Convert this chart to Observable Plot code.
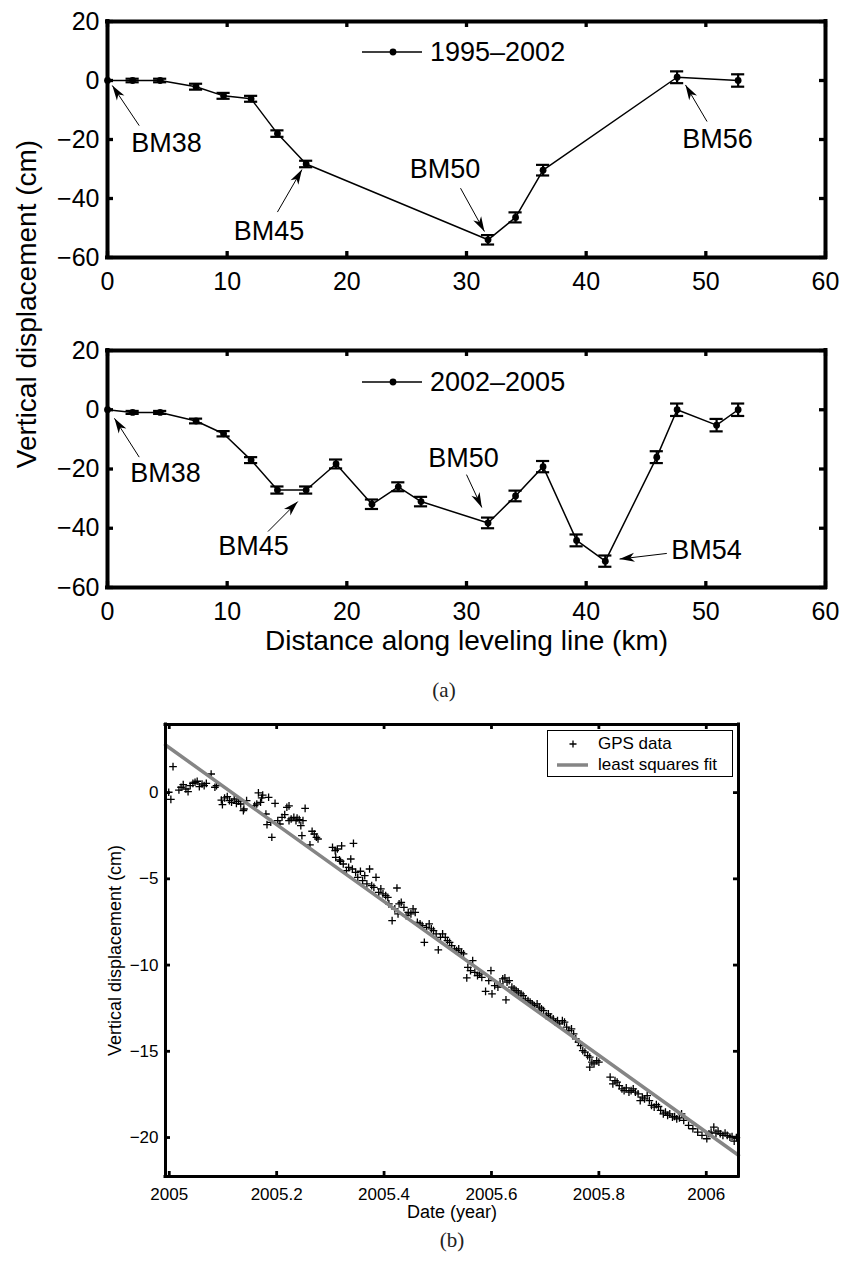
<!DOCTYPE html>
<html>
<head>
<meta charset="utf-8">
<script src="https://cdn.jsdelivr.net/npm/d3@7"></script>
<script src="https://cdn.jsdelivr.net/npm/@observablehq/plot@0.6"></script>
<style>
  body { margin: 0; background: #fff; }
  #root { position: relative; width: 843px; height: 1264px; overflow: hidden; background: #fff;
          font-family: "Liberation Sans", Arial, Helvetica, sans-serif; color: #000; }
  .abs { position: absolute; white-space: nowrap; }
</style>
</head>
<body>
<div id="root"></div>
<script>
// ---------------- DATA ----------------
// Leveling line, 1995–2002
const km9502   = [0, 2.1, 4.4, 7.4, 9.7, 12.0, 14.2, 16.6, 31.8, 34.1, 36.4, 47.6, 52.7];
const disp9502 = [0, 0, 0, -2.1, -5.2, -6.2, -18.0, -28.3, -54.0, -46.4, -30.4, 1.1, 0];
const err9502  = [0, 0.6, 0.6, 1.0, 1.0, 1.0, 1.1, 1.1, 1.6, 1.7, 1.8, 2.0, 2.1];

// Leveling line, 2002–2005
const km0205   = [0, 2.1, 4.4, 7.4, 9.7, 12.0, 14.2, 16.6, 19.1, 22.1, 24.3, 26.2, 31.8, 34.1, 36.4, 39.2, 41.6, 45.9, 47.6, 50.9, 52.7];
const disp0205 = [0, -0.9, -0.9, -3.8, -8.1, -17.0, -27.1, -27.1, -18.3, -31.9, -26.0, -31.0, -38.2, -29.1, -19.2, -44.1, -51.1, -16.0, 0, -5.2, 0];
const err0205  = [0, 0.5, 0.5, 0.8, 0.9, 1.0, 1.2, 1.2, 1.5, 1.6, 1.5, 1.6, 1.8, 1.8, 1.9, 2.0, 1.9, 2.0, 2.1, 2.1, 2.1];

// Benchmark annotations (data units: km, cm)
const ann9502 = [
  {label: "BM38", textX: 4.93,  textY: -21.4, tailX: 2.65, tailY: -15.3, tipX: 0.4,   tipY: -1.7},
  {label: "BM45", textX: 13.5,  textY: -51.2, tailX: 14.2, tailY: -44.6, tipX: 16.25, tipY: -30.2},
  {label: "BM50", textX: 28.2,  textY: -30.2, tailX: 29.5, tailY: -36.5, tipX: 31.5,  tipY: -51.2},
  {label: "BM56", textX: 50.97, textY: -20.0, tailX: 50.1, tailY: -13.9, tipX: 48.3,  tipY: -1.5}
];
const ann0205 = [
  {label: "BM38", textX: 4.85,  textY: -21.6, tailX: 2.65,  tailY: -16.0, tipX: 0.58,  tipY: -2.9},
  {label: "BM45", textX: 12.2,  textY: -46.0, tailX: 13.41, tailY: -41.1, tipX: 15.9,  tipY: -31.0},
  {label: "BM50", textX: 29.75, textY: -16.3, tailX: 30.0,  tailY: -21.9, tipX: 31.28, tipY: -33.0},
  {label: "BM54", textX: 50.05, textY: -47.6, tailX: 46.74, tailY: -48.5, tipX: 42.79, tipY: -50.4}
];

const kmTicks = [0, 10, 20, 30, 40, 50, 60];
const dispTicks = [-60, -40, -20, 0, 20];

// GPS time series: [decimal year, vertical displacement (cm)]
const gpsSamples = [
  [2004.999,0.02],[2005.003,-0.39],[2005.007,1.51],[2005.018,0.15],[2005.022,0.31],[2005.026,0.46],[2005.031,0.21],[2005.035,0.06],[2005.039,0.41],[2005.044,0.54],[2005.048,0.60],[2005.052,0.66],[2005.056,0.35],[2005.061,0.50],[2005.065,0.41],[2005.069,0.54],[2005.078,1.08],[2005.085,0.31],[2005.088,0.41],
  [2005.097,-0.43],[2005.099,-0.70],[2005.103,-0.31],[2005.108,-0.23],[2005.112,-0.46],[2005.116,-0.56],[2005.121,-0.37],[2005.125,-0.62],[2005.129,-0.50],[2005.133,-0.66],[2005.138,-1.04],[2005.139,-0.95],[2005.144,-0.46],[2005.159,-0.75],[2005.163,-0.66],[2005.166,-0.02],[2005.170,-0.56],[2005.172,-0.31],[2005.174,-0.14],[2005.180,-1.24],[2005.182,-1.86],[2005.185,-0.27],[2005.189,-1.72],[2005.191,-2.59],[2005.197,-0.62],
  [2005.202,-1.62],[2005.206,-1.82],[2005.210,-1.43],[2005.215,-1.28],[2005.219,-0.85],[2005.223,-0.77],[2005.223,-1.62],[2005.227,-1.53],[2005.232,-1.43],[2005.236,-1.62],[2005.238,-1.47],[2005.242,-1.57],[2005.245,-1.91],[2005.247,-2.49],[2005.249,-1.62],[2005.253,-0.91],[2005.262,-3.03],[2005.266,-2.24],[2005.270,-2.40],[2005.274,-2.59],[2005.277,-2.69],
  [2005.304,-3.17],[2005.309,-3.36],[2005.310,-3.75],[2005.313,-3.27],[2005.317,-3.90],[2005.319,-3.98],[2005.321,-3.09],[2005.324,-4.14],[2005.330,-4.52],[2005.334,-4.33],[2005.338,-3.85],[2005.341,-4.43],[2005.343,-2.94],[2005.347,-4.62],[2005.351,-4.91],[2005.356,-4.56],[2005.360,-5.10],[2005.364,-4.81],[2005.368,-5.29],[2005.373,-4.43],[2005.377,-5.39],[2005.381,-5.49],[2005.385,-4.91],[2005.390,-5.78],[2005.394,-5.58],[2005.398,-5.87],
  [2005.403,-5.97],[2005.407,-6.07],[2005.409,-6.45],[2005.415,-7.42],[2005.420,-6.74],[2005.424,-5.53],[2005.426,-7.03],[2005.428,-6.45],[2005.432,-6.36],[2005.437,-6.65],[2005.441,-7.13],[2005.445,-6.94],[2005.450,-7.03],[2005.454,-6.74],[2005.458,-6.94],[2005.462,-7.52],[2005.467,-7.61],[2005.471,-7.71],[2005.475,-8.68],[2005.479,-7.81],[2005.484,-7.61],[2005.488,-7.90],[2005.492,-8.00],[2005.497,-8.19],
  [2005.501,-9.12],[2005.505,-8.39],[2005.509,-8.19],[2005.514,-8.39],[2005.518,-8.58],[2005.522,-8.68],[2005.526,-8.87],[2005.531,-9.06],[2005.535,-9.16],[2005.539,-9.06],[2005.544,-9.26],[2005.548,-9.35],[2005.554,-10.74],[2005.556,-10.13],[2005.561,-10.32],[2005.565,-9.74],[2005.569,-10.42],[2005.574,-10.61],[2005.578,-10.51],[2005.582,-10.71],[2005.589,-11.52],[2005.595,-10.90],[2005.599,-10.32],
  [2005.601,-11.67],[2005.606,-11.19],[2005.612,-11.28],[2005.616,-11.09],[2005.621,-10.80],[2005.625,-10.74],[2005.627,-12.02],[2005.629,-10.99],[2005.633,-10.90],[2005.638,-11.28],[2005.642,-11.38],[2005.646,-11.48],[2005.650,-11.57],[2005.655,-11.67],[2005.659,-11.77],[2005.663,-11.96],[2005.668,-12.06],[2005.672,-12.15],[2005.676,-12.25],[2005.680,-12.35],[2005.685,-12.25],[2005.689,-12.44],[2005.693,-12.54],[2005.697,-12.64],
  [2005.702,-12.93],[2005.706,-12.83],[2005.710,-13.02],[2005.715,-13.12],[2005.719,-13.31],[2005.723,-13.22],[2005.727,-13.41],[2005.732,-13.22],[2005.736,-13.31],[2005.740,-13.60],[2005.744,-13.80],[2005.749,-13.70],[2005.753,-13.99],[2005.757,-14.28],[2005.762,-14.47],[2005.766,-14.67],[2005.770,-14.96],[2005.774,-15.05],[2005.779,-15.25],[2005.783,-15.34],[2005.783,-15.92],[2005.787,-15.63],[2005.791,-15.73],[2005.796,-15.54],[2005.800,-15.63],
  [2005.821,-16.50],[2005.826,-16.89],[2005.830,-16.70],[2005.834,-16.79],[2005.838,-16.99],[2005.843,-17.18],[2005.847,-17.28],[2005.851,-17.12],[2005.856,-17.37],[2005.860,-17.28],[2005.864,-17.18],[2005.868,-17.37],[2005.873,-17.47],[2005.877,-17.86],[2005.881,-17.66],[2005.885,-17.76],[2005.890,-17.57],[2005.894,-17.86],[2005.898,-18.14],
  [2005.903,-18.24],[2005.907,-18.09],[2005.911,-18.20],[2005.915,-18.43],[2005.920,-18.63],[2005.924,-18.53],[2005.928,-18.72],[2005.932,-18.63],[2005.937,-18.82],[2005.941,-18.78],[2005.945,-18.92],[2005.950,-18.86],[2005.954,-18.63],[2005.958,-19.01],[2005.967,-19.30],[2005.975,-19.49],[2005.984,-19.69],[2005.992,-19.88],
  [2006.001,-20.07],[2006.005,-19.78],[2006.009,-19.69],[2006.014,-19.40],[2006.018,-19.74],[2006.022,-19.63],[2006.026,-19.78],[2006.031,-19.88],[2006.035,-19.74],[2006.039,-19.88],[2006.044,-19.98],[2006.048,-19.94],[2006.052,-20.21],[2006.056,-20.01]
];
// Least-squares fit line end points
const fitT = [2004.993, 2006.06];
const fitV = [2.76, -21.03];

const yearTicks = [2005, 2005.2, 2005.4, 2005.6, 2005.8, 2006];
const gpsDispTicks = [-20, -15, -10, -5, 0];

// ---------------- DRAWING ----------------
const FONT = '"Liberation Sans", Arial, Helvetica, sans-serif';
const root = document.getElementById("root");
function place(node, top, left = 0) {
  node.style.position = "absolute";
  node.style.top = top + "px";
  node.style.left = left + "px";
  root.appendChild(node);
  return node;
}

// Filled MATLAB-like arrowhead, pointing up with its tip at the origin
const arrowHead = {
  draw(ctx) {
    const L = 15, W = 4.5;
    ctx.moveTo(0, 0);
    ctx.lineTo(W, L);
    ctx.lineTo(0, L * 0.72);
    ctx.lineTo(-W, L);
    ctx.closePath();
  }
};

// Box frame with inward tick marks on all four sides (MATLAB "box on" style)
function boxedAxes(xDom, yDom, xTicks, yTicks, {len, width, frameWidth, xFormat, fontSize, xPad, yPad}) {
  return [
    // inward ticks
    Plot.ruleX(xTicks, {x: d => d, y1: yDom[0], y2: yDom[0], insetTop: -len, stroke: "black", strokeWidth: width}),
    Plot.ruleX(xTicks, {x: d => d, y1: yDom[1], y2: yDom[1], insetBottom: -len, stroke: "black", strokeWidth: width}),
    Plot.ruleY(yTicks, {y: d => d, x1: xDom[0], x2: xDom[0], insetRight: -len, stroke: "black", strokeWidth: width}),
    Plot.ruleY(yTicks, {y: d => d, x1: xDom[1], x2: xDom[1], insetLeft: -len, stroke: "black", strokeWidth: width}),
    // tick labels
    Plot.axisX({ticks: xTicks, tickSize: 0, tickPadding: xPad, label: null, fontSize,
                ...(xFormat ? {tickFormat: xFormat} : {})}),
    Plot.axisY({ticks: yTicks, tickSize: 0, tickPadding: yPad, label: null, fontSize}),
    // frame
    Plot.ruleX(xDom, {x: d => d, stroke: "black", strokeWidth: frameWidth, strokeLinecap: "square"}),
    Plot.ruleY(yDom, {y: d => d, stroke: "black", strokeWidth: frameWidth, strokeLinecap: "square"})
  ];
}

const xDomA = [0, 60], yDomA = [-60, 20];

function levelingPanel({kmArr, dispArr, errArr, ann, height, marginTop, marginBottom, extra = []}) {
  const W = 843, mL = 107, mR = 18;
  const data = kmArr.map((k, i) => ({km: k, d: dispArr[i], e: errArr[i]}));
  const withErr = data.filter(d => d.e > 0);
  const kx = (W - mL - mR) / (xDomA[1] - xDomA[0]);
  const ky = (height - marginTop - marginBottom) / (yDomA[1] - yDomA[0]);
  const arrows = ann.map(a => ({...a,
    angle: Math.atan2((a.tipX - a.tailX) * kx, (a.tipY - a.tailY) * ky) * 180 / Math.PI}));
  const cap = 0.55;
  return Plot.plot({
    width: W, height, marginLeft: mL, marginRight: mR, marginTop, marginBottom,
    style: {fontFamily: FONT, fontSize: "25px", color: "black", background: "transparent", overflow: "visible"},
    x: {domain: xDomA},
    y: {domain: yDomA},
    marks: [
      Plot.line(data, {x: "km", y: "d", stroke: "black", strokeWidth: 1.5}),
      Plot.ruleX(withErr, {x: "km", y1: d => d.d - d.e, y2: d => d.d + d.e, stroke: "black", strokeWidth: 2.2}),
      Plot.ruleY(withErr, {y: d => d.d + d.e, x1: d => d.km - cap, x2: d => d.km + cap, stroke: "black", strokeWidth: 2.2}),
      Plot.ruleY(withErr, {y: d => d.d - d.e, x1: d => d.km - cap, x2: d => d.km + cap, stroke: "black", strokeWidth: 2.2}),
      Plot.dot(data, {x: "km", y: "d", r: 3.4, fill: "black", stroke: "none"}),
      Plot.link(arrows, {x1: "tailX", y1: "tailY", x2: "tipX", y2: "tipY", stroke: "black", strokeWidth: 1}),
      Plot.dot(arrows, {x: "tipX", y: "tipY", symbol: arrowHead, r: 5, rotate: "angle", fill: "black", stroke: "none"}),
      Plot.text(arrows, {x: "textX", y: "textY", text: "label", fontSize: 27, textAnchor: "middle", lineAnchor: "middle", fill: "black"}),
      ...boxedAxes(xDomA, yDomA, kmTicks, dispTicks, {len: 6, width: 3.3, frameWidth: 4, fontSize: 25, xPad: 15, yPad: 8}),
      ...extra
    ]
  });
}

const pA1 = levelingPanel({kmArr: km9502, dispArr: disp9502, errArr: err9502, ann: ann9502,
  height: 300, marginTop: 21, marginBottom: 43});
place(pA1, 0, 0);

const pA2 = levelingPanel({kmArr: km0205, dispArr: disp0205, errArr: err0205, ann: ann0205,
  height: 360, marginTop: 50, marginBottom: 73,
  extra: [Plot.text(["Distance along leveling line (km)"], {text: d => d, frameAnchor: "bottom", dy: 54,
          fontSize: 28, textAnchor: "middle", lineAnchor: "middle", fill: "black"})]});
place(pA2, 300, 0);

// shared y title of panel (a)
const yTitleA = document.createElement("div");
yTitleA.className = "abs";
yTitleA.textContent = "Vertical displacement (cm)";
yTitleA.style.cssText += "font-size:28px;transform:translate(-50%,-50%) rotate(-90deg);";
place(yTitleA, 304, 27);

// legends of panel (a)
function seriesLegend(label, cy) {
  const box = document.createElement("div");
  box.className = "abs";
  box.style.cssText += "display:flex;align-items:center;height:32px;font-size:27px;";
  box.innerHTML = `<svg width="60" height="10" style="margin-right:8px"><line x1="0" y1="5" x2="60" y2="5" stroke="black" stroke-width="1.5"/><circle cx="31" cy="5" r="3.4" fill="black"/></svg><span>${label}</span>`;
  place(box, cy - 16, 362);
}
seriesLegend("1995–2002", 52);
seriesLegend("2002–2005", 382);

// (a) caption
const capA = document.createElement("div");
capA.className = "abs";
capA.textContent = "(a)";
capA.style.cssText += 'font-family:"Liberation Serif","DejaVu Serif",serif;font-size:21px;color:#222;transform:translate(-50%,-50%);';
place(capA, 690, 444);

// ---------------- GPS panel (b) ----------------
const gps = gpsSamples.map(([t, v]) => ({t, v}));
const fit = fitT.map((t, i) => ({t, v: fitV[i]}));
const xDomB = [2004.993, 2006.06], yDomB = [-22.26, 3.95];

const pB = Plot.plot({
  width: 843, height: 604, marginLeft: 165, marginRight: 105, marginTop: 64, marginBottom: 88,
  style: {fontFamily: FONT, fontSize: "17px", color: "black", background: "transparent", overflow: "visible"},
  x: {domain: xDomB},
  y: {domain: yDomB},
  marks: [
    Plot.dot(gps, {x: "t", y: "v", symbol: "plus", r: 2.6, stroke: "black", strokeWidth: 1.3, fill: "none"}),
    Plot.line(fit, {x: "t", y: "v", stroke: "#858585", strokeWidth: 3.5}),
    ...boxedAxes(xDomB, yDomB, yearTicks, gpsDispTicks, {len: 5, width: 2.8, frameWidth: 3, fontSize: 17, xPad: 11, yPad: 7, xFormat: d => String(d)}),
    Plot.text(["Date (year)"], {text: d => d, frameAnchor: "bottom", dy: 36, fontSize: 18, textAnchor: "middle", lineAnchor: "middle", fill: "black"}),
    Plot.text(["Vertical displacement (cm)"], {text: d => d, frameAnchor: "left", dx: -50, rotate: -90, fontSize: 18, textAnchor: "middle", lineAnchor: "middle", fill: "black"})
  ]
});
place(pB, 660, 0);

// legend of panel (b)
const legB = document.createElement("div");
legB.className = "abs";
legB.style.cssText += "width:184px;height:45px;border:1px solid #000;background:#fff;font-size:17px;";
legB.innerHTML = `
  <svg width="184" height="45" style="position:absolute;left:0;top:0">
    <path d="M21.5,13H28.5M25,9.5V16.5" stroke="black" stroke-width="1.3"/>
    <line x1="9" y1="34" x2="40" y2="34" stroke="#858585" stroke-width="3.5"/>
  </svg>
  <span style="position:absolute;left:50px;top:3px;line-height:20px">GPS data</span>
  <span style="position:absolute;left:50px;top:24px;line-height:20px">least squares fit</span>`;
place(legB, 730, 547);

const capB = document.createElement("div");
capB.className = "abs";
capB.textContent = "(b)";
capB.style.cssText += 'font-family:"Liberation Serif","DejaVu Serif",serif;font-size:21px;color:#222;transform:translate(-50%,-50%);';
place(capB, 1240, 452);
</script>
</body>
</html>
